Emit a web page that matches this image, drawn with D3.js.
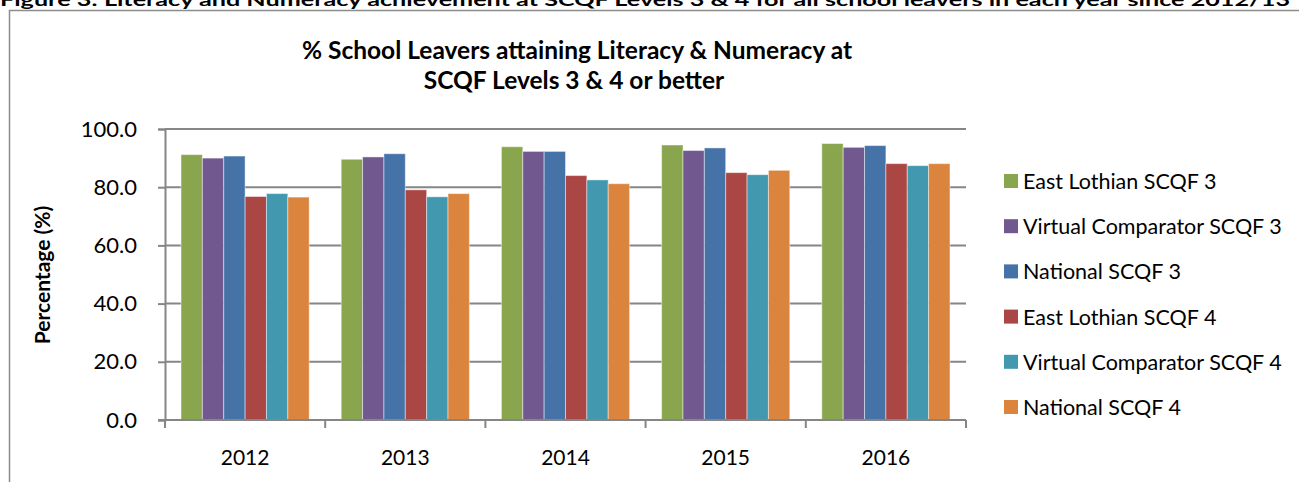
<!DOCTYPE html>
<meta charset="utf-8">
<script src="https://d3js.org/d3.v7.min.js"></script>
<style>
    body { margin: 0; background: #fff; }
    text { font-family: Lato, "Open Sans", sans-serif; fill: #000; }
</style>
<div id="chart"></div>
<script>
    var width = 1299
    var height = 482

    // data
    var years = ["2012", "2013", "2014", "2015", "2016"]
    var seriesNames = [
        "East Lothian SCQF 3",
        "Virtual Comparator SCQF 3",
        "National SCQF 3",
        "East Lothian SCQF 4",
        "Virtual Comparator SCQF 4",
        "National SCQF 4"
    ]
    var eastLothian3 = [91.2, 89.6, 93.9, 94.5, 95.0]
    var virtual3 = [90.0, 90.4, 92.3, 92.6, 93.7]
    var national3 = [90.7, 91.5, 92.3, 93.5, 94.3]
    var eastLothian4 = [76.8, 79.1, 84.0, 85.0, 88.1]
    var virtual4 = [77.8, 76.7, 82.5, 84.3, 87.4]
    var national4 = [76.6, 77.8, 81.2, 85.8, 88.1]
    var yTicks = [0, 20, 40, 60, 80, 100]

    var seriesValues = [eastLothian3, virtual3, national3, eastLothian4, virtual4, national4]
    var colors = ["#89A54E", "#71588F", "#4572A7", "#AA4643", "#4198AF", "#DB843D"]

    var svg = d3.select("#chart")
        .append("svg")
        .attr("width", width)
        .attr("height", height)

    // figure caption, cut by the top edge as in the source page
    svg.append("text")
        .attr("x", 0)
        .attr("y", 6)
        .attr("textLength", 1290)
        .attr("lengthAdjust", "spacingAndGlyphs")
        .style("font-weight", "bold")
        .style("font-size", "17px")
        .text("Figure 3: Literacy and Numeracy achievement at SCQF Levels 3 & 4 for all school leavers in each year since 2012/13")

    // chart frame
    svg.append("rect")
        .attr("x", 9.5)
        .attr("y", 10.5)
        .attr("width", 1300)
        .attr("height", 490)
        .attr("fill", "none")
        .attr("stroke", "#8c8c8c")
        .attr("stroke-width", 1.5)

    var x0 = d3.scaleBand()
        .domain(years)
        .range([165, 966])
        .paddingInner(0.2)
        .paddingOuter(0.1)

    var x1 = d3.scaleBand()
        .domain(d3.range(seriesNames.length))
        .range([0, x0.bandwidth()])

    var y = d3.scaleLinear()
        .domain([0, 100])
        .range([420, 129])

    // gridlines
    svg.append("g")
        .selectAll("line")
        .data(yTicks.slice(1))
        .enter()
        .append("line")
        .attr("x1", 165)
        .attr("x2", 966)
        .attr("y1", function (d) { return y(d) })
        .attr("y2", function (d) { return y(d) })
        .attr("stroke", "#868686")
        .attr("stroke-width", 2)

    // y axis
    var yAxis = svg.append("g")
        .attr("transform", "translate(165,0)")
        .call(d3.axisLeft(y).tickValues(yTicks).tickSize(7).tickPadding(21).tickFormat(d3.format(".1f")))
    yAxis.select(".domain").attr("stroke", "#868686").attr("stroke-width", 2)
    yAxis.selectAll(".tick line").attr("stroke", "#868686").attr("stroke-width", 2)
    yAxis.selectAll("text").style("font-size", "22px").style("font-family", "Lato, sans-serif")

    // bars
    var groups = svg.append("g")
        .selectAll("g")
        .data(years)
        .enter()
        .append("g")
        .attr("transform", function (d) { return "translate(" + x0(d) + ",0)" })

    groups.selectAll("rect")
        .data(function (d, i) {
            return seriesValues.map(function (s, k) { return { k: k, v: s[i] } })
        })
        .enter()
        .append("rect")
        .attr("x", function (d) { return x1(d.k) })
        .attr("width", x1.bandwidth())
        .attr("y", function (d) { return y(d.v) })
        .attr("height", function (d) { return y(0) - y(d.v) })
        .attr("fill", function (d) { return colors[d.k] })
        .attr("stroke", "#ffffff")
        .attr("stroke-opacity", 0.45)
        .attr("stroke-width", 1)

    // x axis
    var xAxis = svg.append("g")
        .attr("transform", "translate(0," + y(0) + ")")
    xAxis.append("line")
        .attr("x1", 158)
        .attr("x2", 966)
        .attr("stroke", "#868686")
        .attr("stroke-width", 2)
    var bounds = years.map(function (d) { return x0(d) - x0.step() * x0.paddingInner() / 2 })
    bounds.push(966)
    xAxis.selectAll(".xtick")
        .data(bounds)
        .enter()
        .append("line")
        .attr("x1", function (d) { return d })
        .attr("x2", function (d) { return d })
        .attr("y1", 0)
        .attr("y2", 8)
        .attr("stroke", "#868686")
        .attr("stroke-width", 2)
    xAxis.selectAll(".xlab")
        .data(years)
        .enter()
        .append("text")
        .attr("x", function (d) { return x0(d) + x0.bandwidth() / 2 })
        .attr("y", 45)
        .attr("text-anchor", "middle")
        .style("font-size", "21px")
        .text(function (d) { return d })

    // y axis title
    svg.append("text")
        .attr("transform", "translate(50,275) rotate(-90)")
        .attr("text-anchor", "middle")
        .style("font-weight", "bold")
        .style("font-size", "21px")
        .text("Percentage (%)")

    // chart title
    svg.append("text")
        .attr("x", 577)
        .attr("y", 59)
        .attr("text-anchor", "middle")
        .style("font-weight", "bold")
        .style("font-size", "24.5px")
        .text("% School Leavers attaining Literacy & Numeracy at")
    svg.append("text")
        .attr("x", 574)
        .attr("y", 89)
        .attr("text-anchor", "middle")
        .style("font-weight", "bold")
        .style("font-size", "24.5px")
        .text("SCQF Levels 3 & 4 or better")

    // legend
    var legend = svg.append("g")
        .selectAll("g")
        .data(seriesNames)
        .enter()
        .append("g")
        .attr("transform", function (d, i) { return "translate(1004," + (181 + i * 45.2) + ")" })
    legend.append("rect")
        .attr("x", 0)
        .attr("y", -7)
        .attr("width", 14)
        .attr("height", 14)
        .attr("fill", function (d, i) { return colors[i] })
    legend.append("text")
        .attr("x", 19)
        .attr("y", 8)
        .style("font-size", "21.5px")
        .text(function (d) { return d })
</script>
